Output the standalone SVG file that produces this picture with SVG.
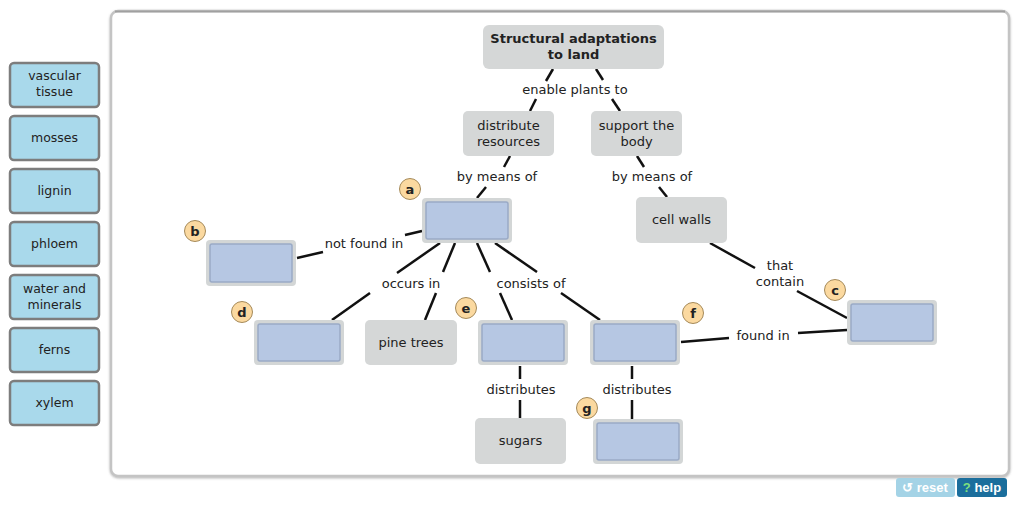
<svg xmlns="http://www.w3.org/2000/svg" width="1024" height="510" viewBox="0 0 1024 510">
<style>
text{font-family:"DejaVu Sans",Verdana,sans-serif;font-size:13px;fill:#222;text-anchor:middle}
.tile text{font-size:12.5px}
.tile rect{fill:#a9d9eb;stroke:#7d7d7d;stroke-width:2.5}
.gray{fill:#d5d7d7}
.outer{fill:#d3d6d6}
.inner{fill:#b6c7e3;stroke:#9aaac6;stroke-width:1.5}
.lbl{fill:#fbd9a0;stroke:#a58a5a;stroke-width:1}
.lt{font-weight:bold;font-size:13px;fill:#222}
.c line{stroke:#111;stroke-width:2.5}
</style>
<defs>
<filter id="sh" x="-5%" y="-5%" width="110%" height="115%"><feDropShadow dx="0" dy="1" stdDeviation="1" flood-color="#666" flood-opacity="0.5"/></filter>
</defs>
<rect width="1024" height="510" fill="#fff"/>
<rect x="111" y="11" width="898" height="465" rx="7" fill="#fff" stroke="#c4c4c4" stroke-width="2.5" filter="url(#sh)"/>
<line x1="115" y1="11.5" x2="1005" y2="11.5" stroke="#a0a0a0" stroke-width="2"/>

<g id="tiles">
<g id="tile-vascular" class="tile"><rect x="10" y="63" width="89" height="44" rx="4"/><text x="54.5" y="80">vascular</text><text x="54.5" y="96">tissue</text></g>
<g id="tile-mosses" class="tile"><rect x="10" y="116" width="89" height="44" rx="4"/><text x="54.5" y="142">mosses</text></g>
<g id="tile-lignin" class="tile"><rect x="10" y="169" width="89" height="44" rx="4"/><text x="54.5" y="195">lignin</text></g>
<g id="tile-phloem" class="tile"><rect x="10" y="222" width="89" height="44" rx="4"/><text x="54.5" y="248">phloem</text></g>
<g id="tile-water" class="tile"><rect x="10" y="275" width="89" height="44" rx="4"/><text x="54.5" y="293">water and</text><text x="54.5" y="309">minerals</text></g>
<g id="tile-ferns" class="tile"><rect x="10" y="328" width="89" height="44" rx="4"/><text x="54.5" y="354">ferns</text></g>
<g id="tile-xylem" class="tile"><rect x="10" y="381" width="89" height="44" rx="4"/><text x="54.5" y="407">xylem</text></g>
</g>

<g class="c" id="connectors">
<line x1="553" y1="69" x2="546" y2="81"/>
<line x1="536" y1="99" x2="530" y2="111"/>
<line x1="596" y1="69" x2="603" y2="80"/>
<line x1="612" y1="99" x2="620" y2="111"/>
<line x1="510" y1="156" x2="504" y2="167"/>
<line x1="486" y1="187" x2="477" y2="198"/>
<line x1="637" y1="156" x2="644" y2="167"/>
<line x1="659" y1="187" x2="667" y2="197"/>
<line x1="422" y1="231" x2="405" y2="235"/>
<line x1="323" y1="252" x2="297" y2="258"/>
<line x1="440" y1="243" x2="397" y2="273"/>
<line x1="370" y1="293" x2="332" y2="320"/>
<line x1="455" y1="243" x2="443" y2="272"/>
<line x1="436" y1="293" x2="425" y2="320"/>
<line x1="477" y1="243" x2="490" y2="272"/>
<line x1="500" y1="293" x2="512" y2="320"/>
<line x1="495" y1="243" x2="537" y2="272"/>
<line x1="561" y1="293" x2="600" y2="320"/>
<line x1="520" y1="366" x2="520" y2="379"/>
<line x1="520" y1="400" x2="520" y2="418"/>
<line x1="632" y1="366" x2="632" y2="379"/>
<line x1="632" y1="400" x2="632" y2="419"/>
<line x1="710" y1="243" x2="755" y2="268"/>
<line x1="797" y1="291" x2="847" y2="318"/>
<line x1="681" y1="342" x2="729" y2="338"/>
<line x1="798" y1="333" x2="847" y2="330"/>
</g>

<g id="link-labels">
<text x="575" y="94">enable plants to</text>
<text x="497" y="181">by means of</text>
<text x="652" y="181">by means of</text>
<text x="364" y="248">not found in</text>
<text x="411" y="288">occurs in</text>
<text x="531" y="288">consists of</text>
<text x="780" y="270">that</text>
<text x="780" y="286">contain</text>
<text x="763" y="340">found in</text>
<text x="521" y="394">distributes</text>
<text x="637" y="394">distributes</text>
</g>

<g id="n-title"><rect class="gray" x="483" y="25" width="181" height="44" rx="6"/><text class="lt" x="573.5" y="43">Structural adaptations</text><text class="lt" x="573.5" y="59">to land</text></g>
<g id="n-distribute"><rect class="gray" x="463" y="111" width="91" height="45" rx="5"/><text x="508.5" y="130">distribute</text><text x="508.5" y="146">resources</text></g>
<g id="n-support"><rect class="gray" x="591" y="111" width="91" height="45" rx="5"/><text x="636.5" y="130">support the</text><text x="636.5" y="146">body</text></g>
<g id="n-cellwalls"><rect class="gray" x="636" y="197" width="91" height="46" rx="5"/><text x="681.5" y="224">cell walls</text></g>
<g id="n-pine"><rect class="gray" x="365" y="320" width="92" height="45" rx="5"/><text x="411" y="347">pine trees</text></g>
<g id="n-sugars"><rect class="gray" x="475" y="418" width="91" height="46" rx="5"/><text x="520.5" y="445">sugars</text></g>

<g id="n-a"><rect class="outer" x="422" y="198" width="90" height="45" rx="4"/><rect class="inner" x="426" y="202" width="82" height="37" rx="2"/><circle class="lbl" cx="410" cy="189" r="10.5"/><text class="lt" x="410" y="193.5">a</text></g>
<g id="n-b"><rect class="outer" x="206" y="240" width="90" height="46" rx="4"/><rect class="inner" x="210" y="244" width="82" height="38" rx="2"/><circle class="lbl" cx="195" cy="231" r="10.5"/><text class="lt" x="195" y="235.5">b</text></g>
<g id="n-c"><rect class="outer" x="847" y="300" width="90" height="45" rx="4"/><rect class="inner" x="851" y="304" width="82" height="37" rx="2"/><circle class="lbl" cx="835" cy="290" r="10.5"/><text class="lt" x="835" y="294.5">c</text></g>
<g id="n-d"><rect class="outer" x="254" y="320" width="90" height="45" rx="4"/><rect class="inner" x="258" y="324" width="82" height="37" rx="2"/><circle class="lbl" cx="242" cy="312" r="10.5"/><text class="lt" x="242" y="316.5">d</text></g>
<g id="n-e"><rect class="outer" x="478" y="320" width="90" height="45" rx="4"/><rect class="inner" x="482" y="324" width="82" height="37" rx="2"/><circle class="lbl" cx="466" cy="308" r="10.5"/><text class="lt" x="466" y="312.5">e</text></g>
<g id="n-f"><rect class="outer" x="590" y="320" width="90" height="45" rx="4"/><rect class="inner" x="594" y="324" width="82" height="37" rx="2"/><circle class="lbl" cx="693" cy="313" r="10.5"/><text class="lt" x="693" y="317.5">f</text></g>
<g id="n-g"><rect class="outer" x="593" y="419" width="90" height="45" rx="4"/><rect class="inner" x="597" y="423" width="82" height="37" rx="2"/><circle class="lbl" cx="587" cy="408" r="10.5"/><text class="lt" x="587" y="412.5">g</text></g>

<g id="buttons">
<rect x="896" y="478" width="59" height="19" rx="3" fill="#a4d3e6"/>
<text x="925" y="492" style="font-family:'Liberation Sans',Arial,sans-serif;font-weight:bold;font-size:13px;fill:#fff">↺ reset</text>
<rect x="957" y="478" width="50" height="19" rx="3" fill="#1b6e9c"/>
<text x="982" y="492" style="font-family:'Liberation Sans',Arial,sans-serif;font-weight:bold;font-size:13px;fill:#fff"><tspan fill="#7ee07e">?</tspan> help</text>
</g>
</svg>
